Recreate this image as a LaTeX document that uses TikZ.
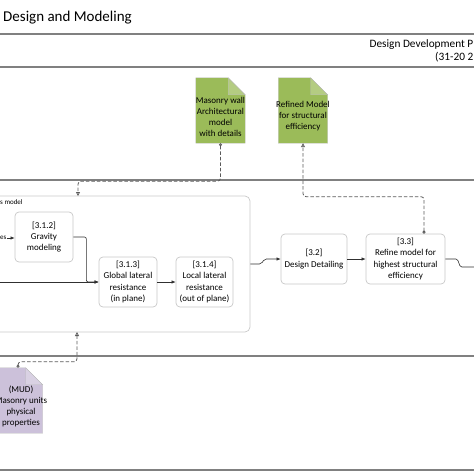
\documentclass[tikz,border=0pt]{standalone}
\usepackage{fontspec}
\setmainfont{Carlito}
\usetikzlibrary{arrows.meta,calc}

\definecolor{docgreen}{HTML}{9BBB59}
\definecolor{docpurple}{HTML}{CCC1DA}
\definecolor{lanegray}{HTML}{808080}
\definecolor{boxgray}{HTML}{C8C8C8}
\definecolor{flowgray}{HTML}{303030}
\definecolor{assocgray}{HTML}{5A5A5A}

\tikzset{
  lane/.style={draw=lanegray, line width=1.3pt},
  task/.style={draw=boxgray, line width=0.7pt, rounded corners=4pt, fill=white,
    minimum width=58pt, minimum height=50pt, inner sep=1pt, align=center,
    font=\fontsize{9}{11.3}\selectfont},
  subproc/.style={draw=boxgray, line width=0.7pt, rounded corners=5pt,
    minimum width=262pt, minimum height=136pt},
  docnode/.style={minimum width=49pt, minimum height=65pt, inner sep=0pt},
  doctext/.style={align=center, font=\fontsize{9}{11}\selectfont, inner sep=0pt},
  small/.style={font=\fontsize{7}{8}\selectfont, inner sep=0pt},
  flow/.style={draw=flowgray, line width=0.6pt, rounded corners=2pt,
    -{Latex[length=4pt,width=3.4pt]}},
  assoc/.style={draw=assocgray, line width=0.8pt, dash pattern=on 3.5pt off 2pt,
    rounded corners=3pt, {Circle[open,length=3pt]}-{Triangle[open,length=4pt,width=4pt]}}
}

% folded corner document shape drawn round a node
\newcommand{\datadoc}[2]{%
  \filldraw[fill=#2, draw=gray!55, line width=0.3pt]
    (#1.south west) -- (#1.north west) -- ([xshift=-17pt]#1.north east)
    -- ([yshift=-17pt]#1.north east) -- (#1.south east) -- cycle;
  \filldraw[fill=#2!75!white, draw=gray!55, line width=0.3pt]
    ([xshift=-17pt]#1.north east) -- ([yshift=-17pt]#1.north east)
    -- ([xshift=-17pt,yshift=-17pt]#1.north east) -- cycle;}

\begin{document}
\begin{tikzpicture}[x=1pt,y=-1pt]
\useasboundingbox (0,0) rectangle (474,474);
\clip (0,0) rectangle (474,474);

% title and lanes
\node[anchor=west, font=\fontsize{15}{17}\selectfont, inner sep=0pt] (title) at (3,18) {Design and Modeling};
\foreach \ly in {34,67,180,356,470}
  \draw[lane] (-5,\ly) -- (480,\ly);
\node[anchor=east, align=right, font=\fontsize{11.3}{12.5}\selectfont, inner sep=0pt] (phase) at (473.5,51)
  {Design Development P\\(31-20 2};

% sub-process
\node[subproc] (model) at (119,264) {};
\node[small, anchor=west] (modellabel) at (0,202) {s model};

% tasks
\node[task] (t312) at (44,237) {[3.1.2]\\Gravity\\modeling};
\node[task] (t313) at (128,282) {[3.1.3]\\Global lateral\\resistance\\(in plane)};
\node[task, minimum width=57pt] (t314) at (204.5,282) {[3.1.4]\\Local lateral\\resistance\\(out of plane)};
\node[task, minimum width=66pt] (t32) at (314,259) {[3.2]\\Design Detailing};
\node[task, minimum width=79pt] (t33) at (405.5,259) {[3.3]\\Refine model for\\highest structural\\efficiency};

% data objects
\node[docnode] (wall) at (220.5,110.5) {};
\datadoc{wall}{docgreen}
\node[doctext] (walltext) at ([yshift=-6pt]wall.center) {Masonry wall\\Architectural\\model\\with details};
\node[docnode] (refined) at (303,110.5) {};
\datadoc{refined}{docgreen}
\node[doctext] (refinedtext) at ([yshift=-6pt]refined.center) {Refined Model\\for structural\\efficiency};
\node[docnode] (mud) at (18,400.5) {};
\datadoc{mud}{docpurple}
\node[doctext] (mudtext) at ([yshift=-6pt,xshift=3pt]mud.center) {(MUD)\\Masonry units\\physical\\properties};

% sequence flows
\node[small, anchor=west] (esin) at (0,238) {es};
\coordinate (inleft) at (-5,282);
\coordinate (outright) at (480,267);
\draw[flow] (esin.east) -- (esin.east -| t312.west);
\draw[flow] (t312.east) -- ++(13,0) |- (t313.west);
\draw[flow] (inleft) -- (t313.west);
\draw[flow] (t313) -- (t314);
\draw[flow] (model.east) -- ++(11,0) -- ++(3,-5) -- (t32.west);
\draw[flow] (t32) -- (t33);
\draw[draw=flowgray, line width=0.6pt, rounded corners=1.5pt] (t33.east) -- ++(12,0) -- ++(3,8) -- (outright);

% data associations
\coordinate (wallin) at (78,196);
\coordinate (mudin) at (77,332);
\draw[assoc] (wall.south) -- ++(0,38) -| (wallin);
\draw[assoc] ([xshift=18.5pt]t33.north) -- ++(0,-37) -| (refined.south);
\draw[assoc] (mud.north) -- ++(0,-6) -| (mudin);
\end{tikzpicture}
\end{document}
